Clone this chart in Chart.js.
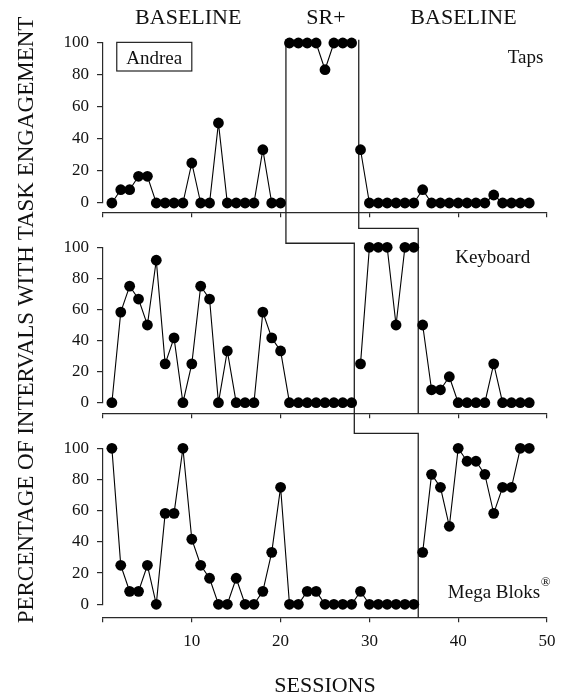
<!DOCTYPE html>
<html>
<head>
<meta charset="utf-8">
<script src="https://cdn.jsdelivr.net/npm/chart.js@4.4.1/dist/chart.umd.min.js"></script>
<style>
html,body{margin:0;padding:0;background:#fff;}
canvas{display:block;}
</style>
</head>
<body>
<canvas id="c" width="567" height="697"></canvas>
<script>
// ---- data ----
const sessions = [1,2,3,4,5,6,7,8,9,10,11,12,13,14,15,16,17,18,19,20,21,22,23,24,25,26,27,28,29,30,31,32,33,34,35,36,37,38,39,40,41,42,43,44,45,46,47,48];
const tapsValues = [0,8.3,8.3,16.7,16.7,0,0,0,0,25,0,0,50,0,0,0,0,33.3,0,0,
  100,100,100,100,83.3,100,100,100,
  33.3,0,0,0,0,0,0,8.3,0,0,0,0,0,0,0,5,0,0,0,0];
const keyboardValues = [0,58.3,75,66.7,50,91.7,25,41.7,0,25,75,66.7,0,33.3,0,0,0,58.3,41.7,33.3,0,0,0,0,0,0,0,0,
  25,100,100,100,50,100,100,
  50,8.3,8.3,16.7,0,0,0,0,25,0,0,0,0];
const megaBloksValues = [100,25,8.3,8.3,25,0,58.3,58.3,100,41.7,25,16.7,0,0,16.7,0,0,8.3,33.3,75,0,0,8.3,8.3,0,0,0,0,8.3,0,0,0,0,0,0,
  33.3,83.3,75,50,100,91.7,91.7,83.3,58.3,75,75,100,100];
const tapsPhaseStarts = [1, 21, 29];
const keyboardPhaseStarts = [1, 29, 36];
const megaBloksPhaseStarts = [1, 36];
const phaseLabels = ['BASELINE', 'SR+', 'BASELINE'];
const phaseLabelSessions = [9.6, 25.1, 40.6];
const panelNames = ['Taps', 'Keyboard', 'Mega Bloks'];
const participantName = 'Andrea';
const yTickValues = [0, 20, 40, 60, 80, 100];
const xTickValues = [0, 10, 20, 30, 40, 50];
const xTickLabels = ['', '10', '20', '30', '40', '50'];
const yAxisTitle = 'PERCENTAGE OF INTERVALS WITH TASK ENGAGEMENT';
const xAxisTitle = 'SESSIONS';

// ---- styles ----
const SERIF = 'Liberation Serif';
const AXIS = '#2a2a2a';
const tickFont = {family: SERIF, size: 17};

function phaseDatasets(values, starts, xAxisID, yAxisID) {
  return starts.map((s, i) => {
    const end = i + 1 < starts.length ? starts[i + 1] : Infinity;
    const pts = sessions.map((x, k) => ({x: x, y: values[k]})).filter(p => p.x >= s && p.x < end);
    return {
      data: pts, xAxisID, yAxisID,
      borderColor: '#000', borderWidth: 1.1, tension: 0,
      pointRadius: 5.4, pointBackgroundColor: '#000', pointBorderWidth: 0,
      pointHoverRadius: 5.4, clip: false
    };
  });
}

function yPanel(weight, stackWeight) {
  return {
    type: 'linear', position: 'left', stack: 'panels', stackWeight, weight,
    min: 0, max: 100,
    afterBuildTicks: s => { s.ticks = yTickValues.map(v => ({value: v})); },
    ticks: {font: tickFont, color: '#111', padding: 8, autoSkip: false},
    grid: {drawOnChartArea: false, tickLength: 6, color: AXIS, lineWidth: 1.2},
    border: {display: true, color: AXIS, width: 1.2},
    afterFit: s => { s.width = 103; }
  };
}
function yGap(weight, stackWeight) {
  return {
    type: 'linear', position: 'left', stack: 'panels', stackWeight, weight,
    min: 0, max: 1, display: false,
    afterFit: s => { s.width = 103; }
  };
}
function xPanel(yId, value, showLabels) {
  return {
    type: 'linear', min: 0, max: 50, position: {[yId]: value},
    afterBuildTicks: s => { s.ticks = xTickValues.map(v => ({value: v})); },
    ticks: {display: showLabels, font: tickFont, color: '#111', padding: 9, maxRotation: 0, autoSkip: false,
      callback: (v) => xTickLabels[xTickValues.indexOf(v)]},
    grid: {drawOnChartArea: false, tickLength: 4, color: AXIS, lineWidth: 1.2},
    border: {display: true, color: AXIS, width: 1.2}
  };
}

const datasets = [].concat(
  phaseDatasets(tapsValues, tapsPhaseStarts, 'xTop', 'yTop'),
  phaseDatasets(keyboardValues, keyboardPhaseStarts, 'xMid', 'yMid'),
  phaseDatasets(megaBloksValues, megaBloksPhaseStarts, 'xBot', 'yBot')
);

const annotations = {
  id: 'annotations',
  beforeDatasetsDraw(chart) {
    const {ctx, scales} = chart;
    const X = scales.xBot, T = scales.yTop, M = scales.yMid, B = scales.yBot;
    const px = v => X.getPixelForValue(v);
    ctx.save();
    ctx.strokeStyle = '#222';
    ctx.lineWidth = 1.3;
    // first phase change (staircase through all panels)
    const a1 = tapsPhaseStarts[1] - 0.5 + 0.1, a2 = keyboardPhaseStarts[1] - 0.5 - 0.2, a3 = megaBloksPhaseStarts[1] - 0.5;
    ctx.beginPath();
    ctx.moveTo(px(a1), T.getPixelForValue(102));
    ctx.lineTo(px(a1), M.getPixelForValue(102.6));
    ctx.lineTo(px(a2), M.getPixelForValue(102.6));
    ctx.lineTo(px(a2), B.getPixelForValue(109.6));
    ctx.lineTo(px(a3), B.getPixelForValue(109.6));
    ctx.lineTo(px(a3), B.getPixelForValue(-8.8));
    ctx.stroke();
    // second phase change (top and middle panels)
    const b1 = tapsPhaseStarts[2] - 0.5 + 0.3, b2 = keyboardPhaseStarts[2] - 0.5;
    ctx.beginPath();
    ctx.moveTo(px(b1), T.getPixelForValue(102));
    ctx.lineTo(px(b1), M.getPixelForValue(112.2));
    ctx.lineTo(px(b2), M.getPixelForValue(112.2));
    ctx.lineTo(px(b2), M.getPixelForValue(-7.3));
    ctx.stroke();
    ctx.restore();
  },
  afterDraw(chart) {
    const {ctx, scales, chartArea} = chart;
    const X = scales.xBot, T = scales.yTop, M = scales.yMid, B = scales.yBot;
    const px = v => X.getPixelForValue(v);
    ctx.save();
    ctx.fillStyle = '#111';
    ctx.textBaseline = 'alphabetic';
    // phase labels
    ctx.font = '22px "' + SERIF + '"';
    ctx.textAlign = 'center';
    phaseLabels.forEach((t, i) => ctx.fillText(t, px(phaseLabelSessions[i]), chartArea.top - 19.5));
    // participant box
    const bx1 = px(1.55), bx2 = px(10.0), by1 = T.getPixelForValue(100.4), by2 = T.getPixelForValue(82.5);
    ctx.strokeStyle = '#222';
    ctx.lineWidth = 1.2;
    ctx.strokeRect(bx1, by1, bx2 - bx1, by2 - by1);
    ctx.font = '19px "' + SERIF + '"';
    ctx.fillText(participantName, (bx1 + bx2) / 2, T.getPixelForValue(87));
    // panel names
    ctx.textAlign = 'right';
    ctx.fillText(panelNames[0], px(49.6), T.getPixelForValue(87.5));
    ctx.fillText(panelNames[1], px(48.1), M.getPixelForValue(89.8));
    const regW = (() => { ctx.font = '13px "' + SERIF + '"'; return ctx.measureText('\u00AE').width; })();
    ctx.fillText('\u00AE', px(50.4), B.getPixelForValue(11.5));
    ctx.font = '19px "' + SERIF + '"';
    ctx.fillText(panelNames[2], px(50.4) - regW - 0.5, B.getPixelForValue(4));
    // axis titles
    ctx.font = '22px "' + SERIF + '"';
    ctx.textAlign = 'center';
    ctx.fillText(xAxisTitle, (chartArea.left + chartArea.right) / 2, 692);
    ctx.save();
    ctx.translate(33, 320);
    ctx.rotate(-Math.PI / 2);
    ctx.font = '23px "' + SERIF + '"';
    ctx.fillText(yAxisTitle, 0, 0);
    ctx.restore();
    ctx.restore();
  }
};

new Chart(document.getElementById('c'), {
  type: 'line',
  data: {datasets},
  options: {
    responsive: false,
    animation: false,
    devicePixelRatio: 1,
    events: [],
    layout: {padding: {left: 0, right: 20, top: 43, bottom: 77}},
    plugins: {legend: {display: false}, tooltip: {enabled: false}},
    scales: {
      yTop: yPanel(6, 160),
      yGap1: yGap(5, 44.3),
      yMid: yPanel(4, 155.4),
      yGap2: yGap(3, 45.6),
      yBot: yPanel(2, 156),
      yGap3: yGap(1, 15.7),
      xTop: xPanel('yTop', -6.06, false),
      xMid: xPanel('yMid', -7.27, false),
      xBot: xPanel('yBot', -8.8, true)
    }
  },
  plugins: [annotations]
});
</script>
</body>
</html>
